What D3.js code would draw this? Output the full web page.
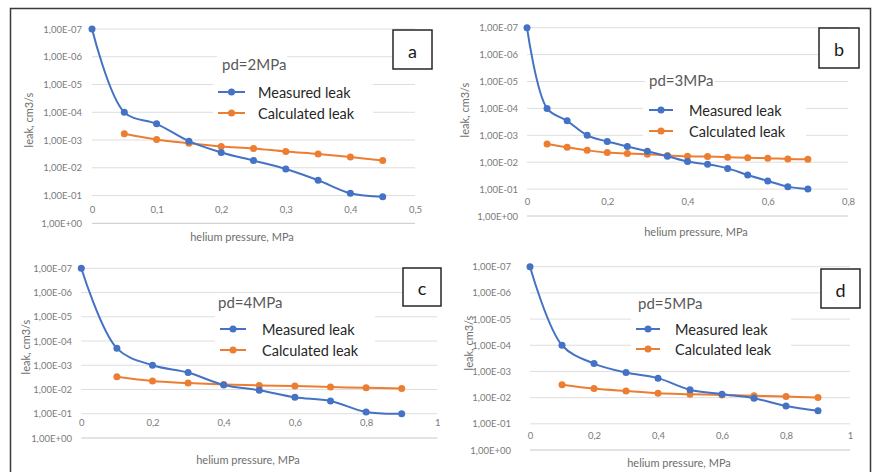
<!DOCTYPE html>
<html><head><meta charset="utf-8">
<script src="https://cdn.jsdelivr.net/npm/d3@7"></script>
<style>
html,body{margin:0;padding:0;background:#fff;}
svg{display:block;font-family:Lato,"Open Sans",sans-serif;}
</style></head>
<body>
<svg id="chart" width="872" height="472"></svg>
<script>
// ---------- data ----------
const yTickValues = [1e-7, 1e-6, 1e-5, 1e-4, 1e-3, 1e-2, 1e-1, 1e0];

const pressureA = [0, 0.05, 0.1, 0.15, 0.2, 0.25, 0.3, 0.35, 0.4, 0.45];
const measuredA = [1e-7, 1e-4, 2.6e-4, 1.1e-3, 2.8e-3, 5.5e-3, 1.1e-2, 2.8e-2, 8.3e-2, 1.1e-1];
const calcPressureA = [0.05, 0.1, 0.15, 0.2, 0.25, 0.3, 0.35, 0.4, 0.45];
const calculatedA = [5.9e-4, 9.5e-4, 1.3e-3, 1.7e-3, 2.0e-3, 2.6e-3, 3.2e-3, 4.1e-3, 5.5e-3];
const xTicksA = [0, 0.1, 0.2, 0.3, 0.4, 0.5];

const pressureB = [0, 0.05, 0.1, 0.15, 0.2, 0.25, 0.3, 0.35, 0.4, 0.45, 0.5, 0.55, 0.6, 0.65, 0.7];
const measuredB = [1e-7, 1e-4, 2.9e-4, 1.0e-3, 1.7e-3, 2.6e-3, 3.9e-3, 6.0e-3, 9.5e-3, 1.2e-2, 1.7e-2, 3.0e-2, 5.0e-2, 8.1e-2, 1.0e-1];
const calcPressureB = [0.05, 0.1, 0.15, 0.2, 0.25, 0.3, 0.35, 0.4, 0.45, 0.5, 0.55, 0.6, 0.65, 0.7];
const calculatedB = [2.1e-3, 2.8e-3, 3.6e-3, 4.4e-3, 4.7e-3, 5.1e-3, 5.6e-3, 6.0e-3, 6.2e-3, 6.5e-3, 6.9e-3, 7.1e-3, 7.6e-3, 7.8e-3];
const xTicksB = [0, 0.2, 0.4, 0.6, 0.8];

const pressureC = [0, 0.1, 0.2, 0.3, 0.4, 0.5, 0.6, 0.7, 0.8, 0.9];
const measuredC = [1e-7, 2.0e-4, 1.0e-3, 2.0e-3, 6.5e-3, 1.07e-2, 2.1e-2, 3.0e-2, 8.5e-2, 1.0e-1];
const calcPressureC = [0.1, 0.2, 0.3, 0.4, 0.5, 0.6, 0.7, 0.8, 0.9];
const calculatedC = [3.0e-3, 4.5e-3, 5.4e-3, 6.2e-3, 6.8e-3, 7.2e-3, 7.9e-3, 8.5e-3, 9.1e-3];
const xTicksC = [0, 0.2, 0.4, 0.6, 0.8, 1];

const pressureD = [0, 0.1, 0.2, 0.3, 0.4, 0.5, 0.6, 0.7, 0.8, 0.9];
const measuredD = [1e-7, 1e-4, 5.0e-4, 1.1e-3, 1.8e-3, 5.0e-3, 7.4e-3, 1.05e-2, 2.1e-2, 3.2e-2];
const calcPressureD = [0.1, 0.2, 0.3, 0.4, 0.5, 0.6, 0.7, 0.8, 0.9];
const calculatedD = [3.2e-3, 4.5e-3, 5.6e-3, 6.8e-3, 7.4e-3, 8.0e-3, 8.5e-3, 9.1e-3, 9.8e-3];
const xTicksD = [0, 0.2, 0.4, 0.6, 0.8, 1];

const panelLetters = ["a", "b", "c", "d"];
const panelTitles = ["pd=2MPa", "pd=3MPa", "pd=4MPa", "pd=5MPa"];
const seriesNames = ["Measured leak", "Calculated leak"];
const xAxisTitle = "helium pressure, MPa";
const yAxisTitle = "leak, cm3/s";

// ---------- layout (pixels) ----------
const layouts = [
  {x0:92, x1:415, yTop:29, yBot:223.3, xTickY:210, xTitle:[242,236], yTitle:[28,120], yLab:82,
   pd:[222,64], leg:[218,245,92,113,258], bg:[213,76,160,48], pdBg:[217,55,70,18], box:[393,30,39,39]},
  {x0:527, x1:848, yTop:27.7, yBot:216, xTickY:202, xTitle:[696,231], yTitle:[464,110], yLab:518,
   pd:[649,80], leg:[649,673,110,131,689], bg:[643,97,163,46], pdBg:[645,71,70,18], box:[819,28,40,40]},
  {x0:81.3, x1:437.3, yTop:268.3, yBot:438, xTickY:423, xTitle:[248,459], yTitle:[25,347], yLab:72,
   pd:[218,302], leg:[220,246,329,350,262], bg:[215,314,160,48], pdBg:[214,293,70,18], box:[403,268,38,38]},
  {x0:530, x1:850, yTop:266.7, yBot:450, xTickY:436, xTitle:[679,462], yTitle:[468,343], yLab:511,
   pd:[638,303], leg:[636,660,329,349,675], bg:[631,314,160,46], pdBg:[634,294,70,18], box:[821,269,39,39]}
];

const panelsData = [
  {p:pressureA, m:measuredA, cp:calcPressureA, c:calculatedA, xt:xTicksA},
  {p:pressureB, m:measuredB, cp:calcPressureB, c:calculatedB, xt:xTicksB},
  {p:pressureC, m:measuredC, cp:calcPressureC, c:calculatedC, xt:xTicksC},
  {p:pressureD, m:measuredD, cp:calcPressureD, c:calculatedD, xt:xTicksD}
];

const BLUE = "#4472C4", ORANGE = "#ED7D31";
const locale = d3.formatLocale({decimal:",", thousands:".", grouping:[3], currency:["",""]});
const fmtX = locale.format("~g");
const fmtY = v => {
  const e = Math.round(Math.log10(v));
  return "1,00E" + (e < 0 ? "-" : "+") + String(Math.abs(e)).padStart(2, "0");
};

const svg = d3.select("#chart");

// outer frame
svg.append("path")
  .attr("d", "M10.5,480 L10.5,8.5 L870.5,8.5 L870.5,480")
  .attr("fill", "none").attr("stroke", "#3a3a3a").attr("stroke-width", 1.5);

panelsData.forEach((d, i) => {
  const L = layouts[i];
  const xMax = d.xt[d.xt.length - 1];
  const x = d3.scaleLinear().domain([0, xMax]).range([L.x0, L.x1]);
  const y = d3.scaleLog().domain([1e-7, 1]).range([L.yTop, L.yBot]);
  const g = svg.append("g");

  // gridlines
  g.append("g").selectAll("line").data(yTickValues).join("line")
    .attr("x1", L.x0).attr("x2", L.x1)
    .attr("y1", v => y(v)).attr("y2", v => y(v))
    .attr("stroke", v => v === 1 ? "#c8c8c8" : "#dedede").attr("stroke-width", 1);

  // y axis labels
  const ya = d3.axisLeft(y).tickValues(yTickValues).tickFormat(fmtY).tickSize(0).tickPadding(0);
  const yg = g.append("g").attr("transform", `translate(${L.yLab},0)`).call(ya);
  yg.select(".domain").remove();
  yg.selectAll("text").attr("font-size", 9.5).attr("fill", "#7a7a7a")
    .attr("font-family", "Lato, sans-serif");

  // x axis labels
  const xa = d3.axisBottom(x).tickValues(d.xt).tickFormat(fmtX).tickSize(0).tickPadding(0);
  const xg = g.append("g").attr("transform", `translate(0,${L.xTickY})`).call(xa);
  xg.select(".domain").remove();
  xg.selectAll("text").attr("font-size", 9.5).attr("fill", "#7a7a7a")
    .attr("dy", "0.35em").attr("y", 0).attr("font-family", "Lato, sans-serif");

  // axis titles
  g.append("text").attr("x", L.xTitle[0]).attr("y", L.xTitle[1])
    .attr("text-anchor", "middle").attr("dominant-baseline", "central")
    .attr("font-size", 11).attr("fill", "#6e6e6e").text(xAxisTitle);
  g.append("text").attr("transform", `translate(${L.yTitle[0]},${L.yTitle[1]}) rotate(-90)`)
    .attr("text-anchor", "middle").attr("dominant-baseline", "central")
    .attr("font-size", 11).attr("fill", "#6e6e6e").text(yAxisTitle);

  // legend backgrounds
  g.append("rect").attr("x", L.bg[0]).attr("y", L.bg[1]).attr("width", L.bg[2]).attr("height", L.bg[3]).attr("fill", "#fff");
  g.append("rect").attr("x", L.pdBg[0]).attr("y", L.pdBg[1]).attr("width", L.pdBg[2]).attr("height", L.pdBg[3]).attr("fill", "#fff");

  // series
  const line = d3.line().x(p => x(p[0])).y(p => y(p[1])).curve(d3.curveCatmullRom.alpha(0.5));
  const series = [
    {pts: d.p.map((p, k) => [p, d.m[k]]), color: BLUE},
    {pts: d.cp.map((p, k) => [p, d.c[k]]), color: ORANGE}
  ];
  [series[1], series[0]].forEach(s => {
    g.append("path").attr("d", line(s.pts)).attr("fill", "none")
      .attr("stroke", s.color).attr("stroke-width", 2);
    g.append("g").selectAll("circle").data(s.pts).join("circle")
      .attr("cx", p => x(p[0])).attr("cy", p => y(p[1])).attr("r", 3.5)
      .attr("fill", s.color);
  });

  // panel title
  g.append("text").attr("x", L.pd[0]).attr("y", L.pd[1]).attr("dominant-baseline", "central")
    .attr("font-size", 15).attr("fill", "#595959").text(panelTitles[i]);

  // legend
  [BLUE, ORANGE].forEach((col, k) => {
    const ly = L.leg[2 + k];
    g.append("line").attr("x1", L.leg[0]).attr("x2", L.leg[1]).attr("y1", ly).attr("y2", ly)
      .attr("stroke", col).attr("stroke-width", 2);
    g.append("circle").attr("cx", (L.leg[0] + L.leg[1]) / 2).attr("cy", ly).attr("r", 3.5).attr("fill", col);
    g.append("text").attr("x", L.leg[4]).attr("y", ly).attr("dominant-baseline", "central")
      .attr("font-size", 14.5).attr("fill", "#262626").text(seriesNames[k]);
  });

  // letter box
  const B = L.box;
  g.append("rect").attr("x", B[0]).attr("y", B[1]).attr("width", B[2]).attr("height", B[3])
    .attr("fill", "#fff").attr("stroke", "#262626").attr("stroke-width", 1.5);
  g.append("text").attr("x", B[0] + B[2] / 2).attr("y", B[1] + B[3] / 2 + 1)
    .attr("text-anchor", "middle").attr("dominant-baseline", "central")
    .attr("font-size", 18).attr("fill", "#1a1a1a").text(panelLetters[i]);
});
</script>
</body></html>
